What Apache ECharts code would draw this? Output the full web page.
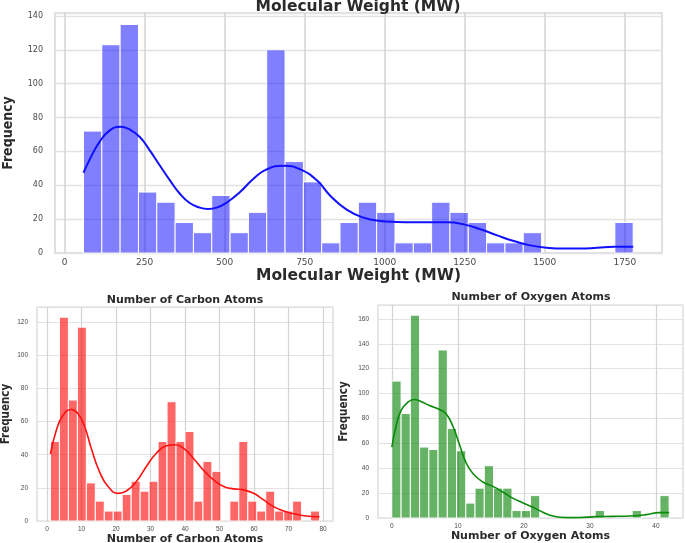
<!DOCTYPE html>
<html>
<head>
<meta charset="utf-8">
<script src="https://cdn.jsdelivr.net/npm/echarts@6/dist/echarts.min.js"></script>
<style>
html,body{margin:0;padding:0;background:#fff;}
#chart{width:685px;height:543px;}
</style>
</head>
<body>
<div id="chart"></div>
<script>
// ---- Molecular weight histogram ----
const mwCounts = [72,123,135,36,30,18,12,34,12,24,120,54,42,6,18,30,24,6,6,30,24,18,6,6,12,0,0,0,0,18];
const mwBinRange = [59, 1776];
const mwTicks = [0,250,500,750,1000,1250,1500,1750];
const mwKde = [[59,47.4],[77,54.7],[109,65.6],[141,72.4],[174,74.6],[203,73],[235,68.5],[266,60.6],[297,51.8],[329,42.9],[360,35],[391,29.5],[422,26.8],[448,26],[475,26.8],[506,29.7],[548,36],[590,43.9],[631,49.4],[684,51.6],[736,49.4],[788,42.9],[829,34],[881,25.6],[934,20.9],[986,18.9],[1038,18.3],[1090,18.1],[1142,18.1],[1195,18.1],[1247,16.9],[1299,14],[1351,10.4],[1403,7.1],[1455,4.5],[1508,3.1],[1560,2.6],[1612,2.6],[1664,3.1],[1716,3.7],[1776,3.7]];

// ---- Carbon atoms histogram ----
const carbonCounts = [48,123,73,117,23,12,6,6,16,24,18,24,48,72,48,54,12,36,30,0,12,48,12,6,18,6,6,12,0,6];
const carbonBinRange = [1, 79];
const carbonTicks = [0,10,20,30,40,50,60,70,80];
const carbonKde = [[1,40.3],[2.6,54],[4.6,63.7],[7,67.3],[8.9,65],[10.9,57],[12.8,44],[15.2,29.8],[17.7,20.8],[20.6,16.7],[23,18.1],[25.9,23.8],[28.8,32.9],[31.7,40.9],[34.7,45.4],[37.1,46],[39.5,44],[42.4,37.9],[45.3,30.8],[48.3,24.8],[51.2,20.8],[54.1,19.4],[57,18.8],[59.9,16.7],[62.8,12.7],[65.7,8.7],[68.6,6],[71.6,4.4],[74.5,3.2],[79,2.6]];

// ---- Oxygen atoms histogram ----
const oxygenCounts = [110,84,163,57,55,135,72,54,12,24,42,24,24,6,6,18,0,0,0,0,0,0,6,0,0,0,6,0,0,18];
const oxygenBinRange = [0, 42];
const oxygenTicks = [0,10,20,30,40];
const oxygenKde = [[0,57],[0.66,74.3],[1.4,86.4],[2.4,93],[3.4,95.2],[4.4,93.6],[5.7,90.4],[7.2,87.2],[8.2,83.7],[9.2,74.3],[10.2,59.6],[11.2,44.9],[12.3,35.6],[13.8,28.9],[15.3,25.4],[16.8,20.9],[18.3,16],[19.8,12.3],[21.3,8.8],[22.8,4.8],[24.4,1.6],[26.4,0.3],[28.4,0.3],[30.9,1.1],[33.4,1.3],[36,1.6],[38.5,2.7],[40.5,4.3],[42,4.3]];

const titles = ['Molecular Weight (MW)', 'Number of Carbon Atoms', 'Number of Oxygen Atoms'];
const yName = 'Frequency';

const narrowFont = "'Liberation Sans Narrow', 'DejaVu Sans Condensed', 'Liberation Sans', Arial, sans-serif";

function bins(counts, range) {
  const w = (range[1] - range[0]) / counts.length;
  return counts.map((c, i) => [range[0] + i * w, range[0] + (i + 1) * w, c]);
}

function histRender(color) {
  return function (params, api) {
    const c = api.value(2);
    if (!c) return null;
    const p0 = api.coord([api.value(0), c]);
    const p1 = api.coord([api.value(1), 0]);
    return {
      type: 'rect',
      shape: { x: p0[0], y: p0[1], width: p1[0] - p0[0], height: p1[1] - p0[1] },
      style: { fill: color, stroke: '#ffffff', lineWidth: 1 }
    };
  };
}

const chart = echarts.init(document.getElementById('chart'));

function plain(v) { return String(v); }

function xAxisCfg(idx, min, max, ticks, name, big) {
  return {
    type: 'value', gridIndex: idx, min: min, max: max,
    name: name, nameLocation: 'middle', nameGap: big ? 11 : 11.5,
    nameTextStyle: { fontFamily: 'DejaVu Sans', fontWeight: 'bold', fontSize: big ? 15.5 : 11, color: '#2b2b2b' },
    axisLine: { show: false }, axisTick: { show: false, customValues: ticks },
    axisLabel: { customValues: ticks, formatter: plain, fontFamily: big ? 'DejaVu Sans' : 'Liberation Sans', fontSize: big ? 9 : 6.5, color: '#4a4a4a', margin: 5 },
    splitLine: { show: true, lineStyle: { color: '#d3d3d3', width: big ? 1.5 : 1.2 } }
  };
}
function yAxisCfg(idx, max, gap, big) {
  return {
    type: 'value', gridIndex: idx, min: 0, max: max, interval: 20,
    name: yName, nameLocation: 'middle', nameGap: gap,
    nameTextStyle: { fontFamily: narrowFont, fontWeight: 'bold', fontSize: big ? 14 : 11.5, color: '#2b2b2b' },
    axisLine: { show: false }, axisTick: { show: false },
    axisLabel: { showMaxLabel: false, formatter: plain, fontFamily: big ? 'DejaVu Sans' : 'Liberation Sans', fontSize: big ? 8 : 6.5, color: '#4a4a4a', margin: big ? 12 : 9 },
    splitLine: { show: true, lineStyle: { color: '#e2e2e2', width: big ? 1.3 : 1.1 } }
  };
}

const option = {
  animation: false,
  backgroundColor: '#ffffff',
  title: [
    { text: titles[0], left: 358, top: -1, textAlign: 'center', padding: 0,
      textStyle: { fontFamily: 'DejaVu Sans', fontWeight: 'bold', fontSize: 15.5, color: '#2b2b2b' } },
    { text: titles[1], left: 185, top: 295, textAlign: 'center', padding: 0,
      textStyle: { fontFamily: 'DejaVu Sans', fontWeight: 'bold', fontSize: 11, color: '#2b2b2b' } },
    { text: titles[2], left: 531, top: 292, textAlign: 'center', padding: 0,
      textStyle: { fontFamily: 'DejaVu Sans', fontWeight: 'bold', fontSize: 11, color: '#2b2b2b' } }
  ],
  grid: [
    { left: 55, right: 23, top: 13, height: 240, show: true, borderColor: '#d6d6d6', borderWidth: 1.5, containLabel: false, outerBoundsMode: 'none' },
    { left: 37, right: 352, top: 307, height: 214, show: true, borderColor: '#d6d6d6', borderWidth: 1.2, containLabel: false, outerBoundsMode: 'none' },
    { left: 378, right: 2, top: 305, height: 213, show: true, borderColor: '#d6d6d6', borderWidth: 1.2, containLabel: false, outerBoundsMode: 'none' }
  ],
  xAxis: [
    xAxisCfg(0, -30, 1866, mwTicks, titles[0], true),
    xAxisCfg(1, -2.9, 82.9, carbonTicks, titles[1], false),
    xAxisCfg(2, -2.1, 44.1, oxygenTicks, titles[2], false)
  ],
  yAxis: [
    yAxisCfg(0, 141.75, 40, true),
    yAxisCfg(1, 129.15, 25, false),
    yAxisCfg(2, 171.15, 28, false)
  ],
  series: [
    { type: 'custom', xAxisIndex: 0, yAxisIndex: 0, renderItem: histRender('rgba(0,0,255,0.5)'),
      encode: { x: [0, 1], y: 2 }, data: bins(mwCounts, mwBinRange), z: 2 },
    { type: 'line', xAxisIndex: 0, yAxisIndex: 0, data: mwKde, smooth: true, showSymbol: false, symbol: 'none',
      lineStyle: { color: '#1010ff', width: 2 }, z: 3 },
    { type: 'custom', xAxisIndex: 1, yAxisIndex: 1, renderItem: histRender('rgba(255,0,0,0.6)'),
      encode: { x: [0, 1], y: 2 }, data: bins(carbonCounts, carbonBinRange), z: 2 },
    { type: 'line', xAxisIndex: 1, yAxisIndex: 1, data: carbonKde, smooth: true, showSymbol: false, symbol: 'none',
      lineStyle: { color: '#ff1010', width: 1.6 }, z: 3 },
    { type: 'custom', xAxisIndex: 2, yAxisIndex: 2, renderItem: histRender('rgba(0,128,0,0.6)'),
      encode: { x: [0, 1], y: 2 }, data: bins(oxygenCounts, oxygenBinRange), z: 2 },
    { type: 'line', xAxisIndex: 2, yAxisIndex: 2, data: oxygenKde, smooth: true, showSymbol: false, symbol: 'none',
      lineStyle: { color: '#0a8a0a', width: 1.6 }, z: 3 }
  ]
};
chart.setOption(option);
</script>
</body>
</html>
